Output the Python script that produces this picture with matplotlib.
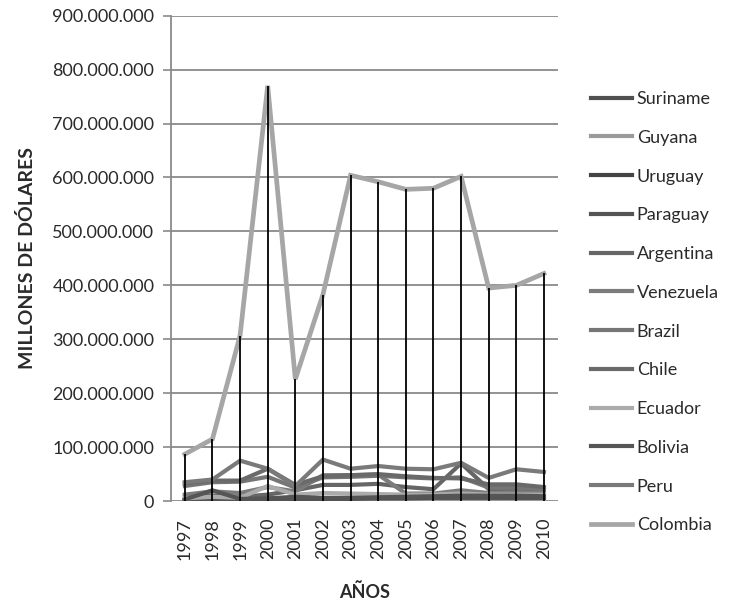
import matplotlib
matplotlib.use("Agg")
import matplotlib.pyplot as plt
from matplotlib.ticker import FuncFormatter, MultipleLocator

# Data (millones de dólares -> dólares)
years = [str(y) for y in range(1997, 2011)]
suriname = [0.5, 0.5, 0.6, 0.8, 0.7, 0.8, 1.0, 1.2, 1.2, 1.5, 1.5, 1.8, 1.8, 2.0]
guyana = [1, 1, 1, 2, 1, 1, 2, 2, 2, 2, 3, 3, 3, 3]
uruguay = [2, 4, 3, 5, 4, 5, 6, 6, 7, 7, 8, 8, 7, 7]
paraguay = [2, 3, 2, 3, 3, 4, 4, 5, 5, 6, 6, 6, 6, 6]
argentina = [8, 10, 8, 12, 20, 30, 30, 32, 26, 22, 70, 22, 22, 20]
venezuela = [12, 18, 15, 26, 18, 48, 48, 49, 14, 14, 20, 15, 16, 15]
brazil = [28, 35, 36, 45, 25, 44, 45, 47, 44, 42, 44, 25, 25, 22]
chile = [33, 38, 38, 60, 30, 46, 48, 50, 46, 43, 42, 31, 31, 26]
ecuador = [5, 8, 6, 28, 12, 15, 14, 13, 12, 12, 14, 12, 12, 12]
bolivia = [3, 20, 4, 5, 8, 6, 6, 7, 8, 9, 10, 10, 10, 9]
peru = [35, 40, 75, 60, 28, 77, 60, 65, 60, 59, 71, 43, 59, 54]
colombia = [87, 115, 307, 770, 226, 383, 604, 592, 578, 580, 602, 395, 400, 422]

series = [
    ("Suriname", suriname, "#505050"),
    ("Guyana", guyana, "#9a9a9a"),
    ("Uruguay", uruguay, "#444444"),
    ("Paraguay", paraguay, "#545454"),
    ("Argentina", argentina, "#666666"),
    ("Venezuela", venezuela, "#7c7c7c"),
    ("Brazil", brazil, "#767676"),
    ("Chile", chile, "#6a6a6a"),
    ("Ecuador", ecuador, "#ababab"),
    ("Bolivia", bolivia, "#555555"),
    ("Peru", peru, "#7a7a7a"),
    ("Colombia", colombia, "#a6a6a6"),
]

plt.rcParams['font.family'] = ['Lato', 'DejaVu Sans']
txt = "#2a2a2a"

fig = plt.figure(figsize=(7.29, 6.03), dpi=100)
ax = fig.add_axes([0.2346, 0.169, 0.5305, 0.805])

x = list(range(len(years)))
handles = []
for name, vals, col in series:
    lw = 3.4 if name == "Colombia" else 3.0
    ln, = ax.plot(x, [v * 1e6 for v in vals], color=col, lw=lw,
                  solid_joinstyle='miter', zorder=3, label=name)
    handles.append(ln)

# drop lines from the highest point down to the axis
tops = [max(s[1][i] for s in series) * 1e6 for i in x]
ax.vlines(x, 0, tops, color="black", lw=1.3, zorder=4)

ax.set_xlim(-0.5, len(years) - 0.5)
ax.set_ylim(0, 900e6)
ax.yaxis.set_major_locator(MultipleLocator(100e6))
ax.yaxis.set_major_formatter(FuncFormatter(lambda v, p: f"{int(v):,}".replace(",", ".")))
ax.grid(axis='y', color="#8a8a8a", lw=1.3, zorder=1)
ax.set_axisbelow(True)

ax.set_xticks(x)
ax.set_xticklabels(years, rotation=90, fontsize=13, color=txt)
ax.tick_params(axis='x', length=0, pad=12)
ax.tick_params(axis='y', length=6, width=1.2, color="#8a8a8a", labelsize=13,
               labelcolor=txt, pad=6)

for s in ['top', 'right', 'bottom']:
    ax.spines[s].set_visible(False)
ax.spines['left'].set_color("#8a8a8a")
ax.spines['left'].set_linewidth(1.3)

ax.set_ylabel("MILLONES DE DÓLARES", fontsize=14, fontweight='bold', color=txt, labelpad=12)
ax.set_xlabel("AÑOS", fontsize=13, fontweight='bold', color=txt, labelpad=17)

fig.legend(handles=handles, loc='upper left', bbox_to_anchor=(0.788, 0.876),
           frameon=False, fontsize=13, handlelength=2.3, handletextpad=0.25,
           labelspacing=1.26, labelcolor=txt)

fig.savefig("out.png", dpi=100)
